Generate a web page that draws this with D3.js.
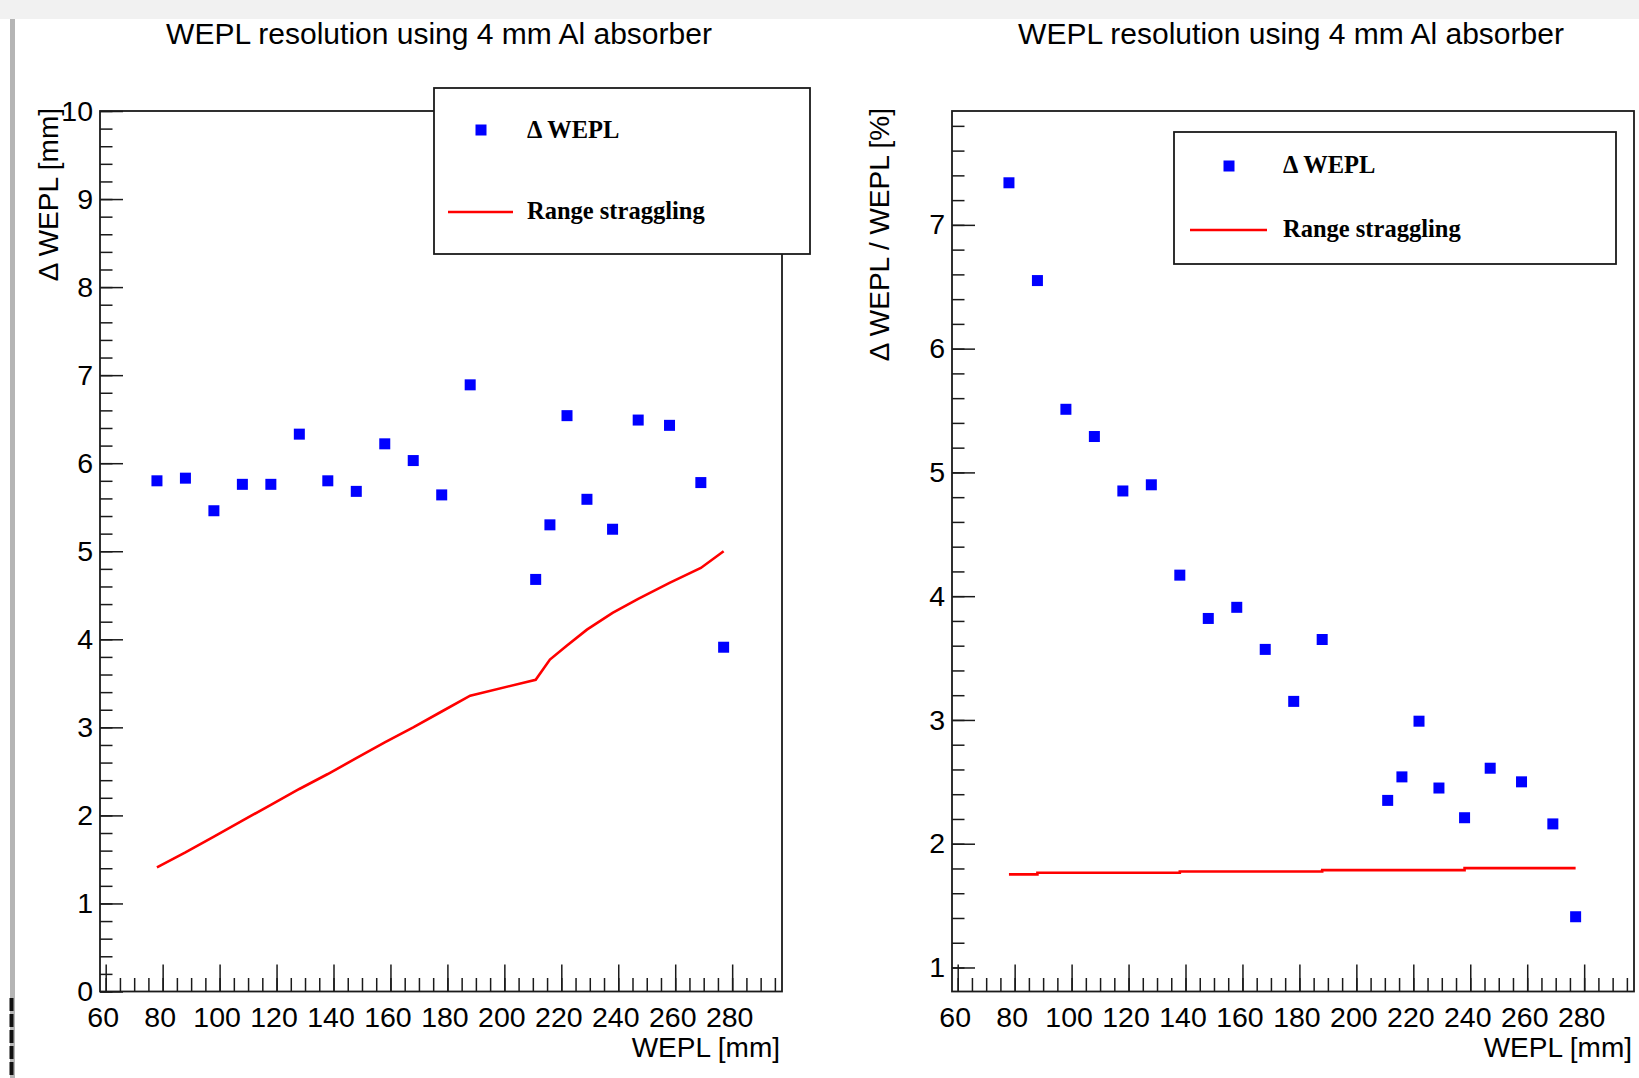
<!DOCTYPE html>
<html>
<head>
<meta charset="utf-8">
<script src="https://cdn.jsdelivr.net/npm/d3@7"></script>
<style>
  html, body { margin: 0; padding: 0; background: #fff; }
  svg { display: block; }
  .sans { font-family: "Liberation Sans", Arial, Helvetica, sans-serif; }
  .serif { font-family: "Liberation Serif", "Times New Roman", serif; font-weight: bold; }
</style>
</head>
<body>
<svg id="chart" width="1639" height="1078"></svg>
<script>
// ---------------- data ----------------
const xValues = [78, 88, 98, 108, 118, 128, 138, 148, 158, 168, 178, 188, 211, 216, 222, 229, 238, 247, 258, 269, 277];
// left panel: Delta WEPL [mm]
const deltaWeplMm = [5.80, 5.83, 5.46, 5.76, 5.76, 6.33, 5.80, 5.68, 6.22, 6.03, 5.64, 6.89, 4.68, 5.30, 6.54, 5.59, 5.25, 6.49, 6.43, 5.78, 3.91];
const stragglingMm = [1.41, 1.58, 1.76, 1.94, 2.12, 2.30, 2.47, 2.65, 2.83, 3.00, 3.18, 3.36, 3.54, 3.77, 3.93, 4.11, 4.30, 4.46, 4.64, 4.81, 5.00];
// right panel: Delta WEPL / WEPL [%]
const deltaWeplPct = [7.34, 6.55, 5.51, 5.29, 4.85, 4.90, 4.17, 3.82, 3.91, 3.57, 3.15, 3.65, 2.35, 2.54, 2.99, 2.45, 2.21, 2.61, 2.50, 2.16, 1.41];
const stragglingPct = [1.752, 1.765, 1.765, 1.765, 1.765, 1.765, 1.776, 1.776, 1.776, 1.776, 1.776, 1.787, 1.787, 1.787, 1.787, 1.787, 1.803, 1.803, 1.803, 1.803, 1.803];

const xMajorTicks = [60, 80, 100, 120, 140, 160, 180, 200, 220, 240, 260, 280];
const leftYTicks = [0, 1, 2, 3, 4, 5, 6, 7, 8, 9, 10];
const rightYTicks = [1, 2, 3, 4, 5, 6, 7];
const titleText = "WEPL resolution using 4 mm Al absorber";
const xTitle = "WEPL [mm]";
const leftYTitle = "\u0394 WEPL [mm]";
const rightYTitle = "\u0394 WEPL / WEPL [%]";
const legendLabels = ["\u0394 WEPL", "Range straggling"];

// ---------------- layout ----------------
const svg = d3.select("#chart");
const AX = "#1a1a1a";

// page decorations (screenshot frame)
svg.append("rect").attr("x", 0).attr("y", 0).attr("width", 1639).attr("height", 19).attr("fill", "#f1f1f1");
svg.append("rect").attr("x", 10).attr("y", 19).attr("width", 5).attr("height", 1059).attr("fill", "#b5b5b5");
svg.append("line").attr("x1", 11.5).attr("x2", 11.5).attr("y1", 998).attr("y2", 1078)
  .attr("stroke", "#111").attr("stroke-width", 4).attr("stroke-dasharray", "13,3");

const panels = [
  {
    frame: {x0: 100, x1: 782, y0: 111, y1: 991.5},
    xDomain: [58, 297.5], yDomain: [0, 10],
    yTicks: leftYTicks, yMinorStep: 0.2,
    pts: deltaWeplMm, line: stragglingMm, curve: d3.curveLinear,
    yTitle: leftYTitle, yTitleX: 58, titleX: 439,
    legend: {x: 434, y: 88, w: 376, h: 166, mx: 481, my: 130, tx: 527, t1y: 137.5, lx0: 448, lx1: 513, ly: 212, t2y: 218.5}
  },
  {
    frame: {x0: 952, x1: 1634, y0: 111, y1: 991.5},
    xDomain: [58, 297.5], yDomain: [0.806, 7.92],
    yTicks: rightYTicks, yMinorStep: 0.2,
    pts: deltaWeplPct, line: stragglingPct, curve: d3.curveStepAfter,
    yTitle: rightYTitle, yTitleX: 889, titleX: 1291,
    legend: {x: 1174, y: 132, w: 442, h: 132, mx: 1229, my: 166, tx: 1283, t1y: 172.5, lx0: 1190, lx1: 1267, ly: 230, t2y: 237}
  }
];

panels.forEach(p => {
  const f = p.frame;
  const x = d3.scaleLinear().domain(p.xDomain).range([f.x0, f.x1]);
  const y = d3.scaleLinear().domain(p.yDomain).range([f.y1, f.y0]);
  const g = svg.append("g");

  // title
  g.append("text").attr("class", "sans").attr("x", p.titleX).attr("y", 44)
    .attr("text-anchor", "middle").attr("font-size", 30).attr("fill", "#000").text(titleText);

  // minor x ticks
  const xMinor = d3.range(60, p.xDomain[1] + 0.001, 5).filter(v => v >= p.xDomain[0]);
  const gxm = g.append("g").attr("transform", `translate(0,${f.y1})`)
    .call(d3.axisBottom(x).tickValues(xMinor).tickSize(-13.5).tickFormat(""));
  // major x ticks
  const gx = g.append("g").attr("transform", `translate(0,${f.y1})`)
    .call(d3.axisBottom(x).tickValues(xMajorTicks).tickSize(-27).tickPadding(15).tickFormat(d3.format("d")));
  gx.selectAll("text").attr("class", "sans").attr("font-size", 28.5).attr("fill", "#000").attr("dx", -3);

  // minor y ticks
  const yMinor = d3.range(0, 10.0001, p.yMinorStep).map(v => +v.toFixed(2)).filter(v => v >= p.yDomain[0] && v <= p.yDomain[1]);
  const gym = g.append("g").attr("transform", `translate(${f.x0},0)`)
    .call(d3.axisLeft(y).tickValues(yMinor).tickSize(-12.5).tickFormat(""));
  const gy = g.append("g").attr("transform", `translate(${f.x0},0)`)
    .call(d3.axisLeft(y).tickValues(p.yTicks).tickSize(-23).tickPadding(7).tickFormat(d3.format("d")));
  gy.selectAll("text").attr("class", "sans").attr("font-size", 28.5).attr("fill", "#000");

  [gxm, gx, gym, gy].forEach(a => {
    a.select(".domain").remove();
    a.selectAll("line").attr("stroke", AX).attr("stroke-width", 1.5);
  });

  // frame
  g.append("rect").attr("x", f.x0).attr("y", f.y0).attr("width", f.x1 - f.x0).attr("height", f.y1 - f.y0)
    .attr("fill", "none").attr("stroke", AX).attr("stroke-width", 1.8);

  // axis titles
  g.append("text").attr("class", "sans").attr("x", f.x1 - 2).attr("y", 1057)
    .attr("text-anchor", "end").attr("font-size", 28).attr("fill", "#000").text(xTitle);
  g.append("text").attr("class", "sans")
    .attr("transform", `translate(${p.yTitleX},108) rotate(-90)`)
    .attr("text-anchor", "end").attr("font-size", 28).attr("fill", "#000").text(p.yTitle);

  // range straggling line
  const lineGen = d3.line().x((d, i) => x(xValues[i])).y(d => y(d)).curve(p.curve);
  g.append("path").datum(p.line).attr("d", lineGen)
    .attr("fill", "none").attr("stroke", "#ff0000").attr("stroke-width", 2.6);

  // markers
  const ms = 11;
  g.append("g").selectAll("rect").data(p.pts).join("rect")
    .attr("x", (d, i) => x(xValues[i]) - ms / 2).attr("y", d => y(d) - ms / 2)
    .attr("width", ms).attr("height", ms).attr("fill", "#0000ff");

  // legend
  const L = p.legend;
  const lg = g.append("g");
  lg.append("rect").attr("x", L.x).attr("y", L.y).attr("width", L.w).attr("height", L.h)
    .attr("fill", "#fff").attr("stroke", AX).attr("stroke-width", 1.8);
  lg.append("rect").attr("x", L.mx - ms / 2).attr("y", L.my - ms / 2).attr("width", ms).attr("height", ms).attr("fill", "#0000ff");
  lg.append("text").attr("class", "serif").attr("x", L.tx).attr("y", L.t1y).attr("font-size", 24.5).attr("fill", "#000").text(legendLabels[0]);
  lg.append("line").attr("x1", L.lx0).attr("x2", L.lx1).attr("y1", L.ly).attr("y2", L.ly)
    .attr("stroke", "#ff0000").attr("stroke-width", 2.6);
  lg.append("text").attr("class", "serif").attr("x", L.tx).attr("y", L.t2y).attr("font-size", 24.5).attr("fill", "#000").text(legendLabels[1]);
});
</script>
</body>
</html>
